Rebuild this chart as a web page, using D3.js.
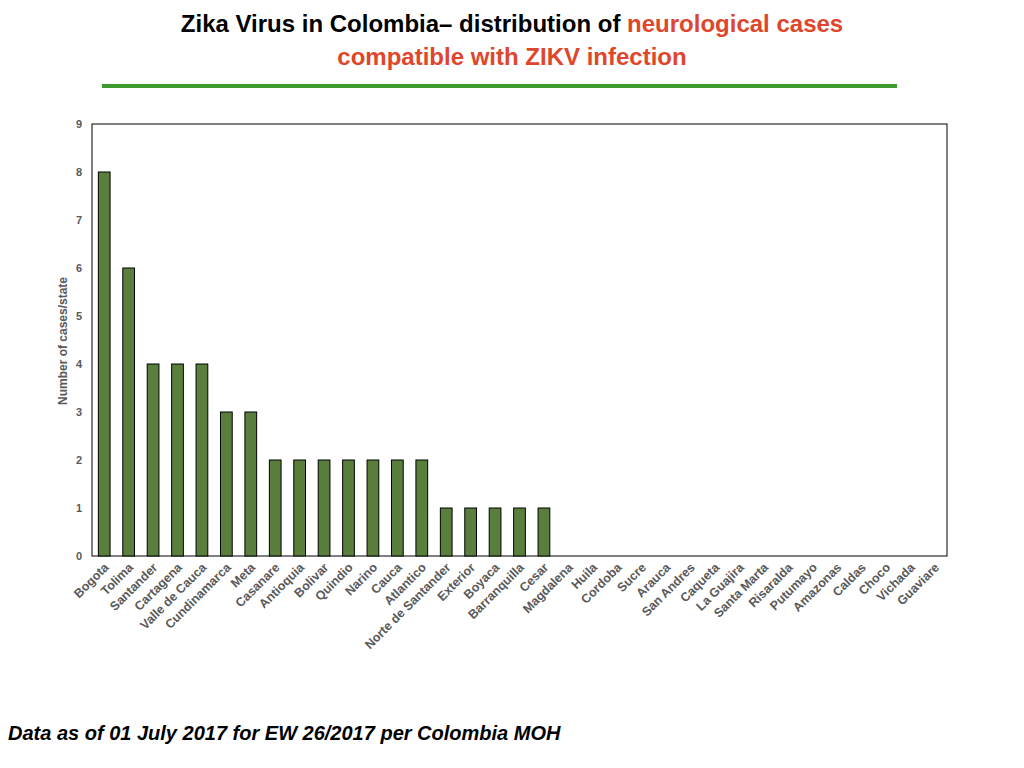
<!DOCTYPE html>
<html><head><meta charset="utf-8">
<script src="https://cdn.jsdelivr.net/npm/d3@7"></script>
<style>body{margin:0;background:#fff;font-family:"Liberation Sans",Arial,sans-serif}</style>
</head><body>
<svg id="c" width="1024" height="768"></svg>
<script>
const states = ["Bogota","Tolima","Santander","Cartagena","Valle de Cauca","Cundinamarca","Meta","Casanare","Antioquia","Bolivar","Quindio","Narino","Cauca","Atlantico","Norte de Santander","Exterior","Boyaca","Barranquilla","Cesar","Magdalena","Huila","Cordoba","Sucre","Arauca","San Andres","Caqueta","La Guajira","Santa Marta","Risaralda","Putumayo","Amazonas","Caldas","Choco","Vichada","Guaviare"];
const cases = [8,6,4,4,4,3,3,2,2,2,2,2,2,2,1,1,1,1,1,0,0,0,0,0,0,0,0,0,0,0,0,0,0,0,0];
const yTicks = [0,1,2,3,4,5,6,7,8,9];

const svg = d3.select("#c");
const m = {left:92, right:947, top:124, bottom:556};
const x = d3.scaleBand().domain(states).range([m.left, m.right]).paddingInner(0.52).paddingOuter(0.26);
const y = d3.scaleLinear().domain([0,9]).range([m.bottom, m.top]);

// title
const t = svg.append("text").attr("x",512).attr("y",32).attr("text-anchor","middle")
  .attr("font-size",24).attr("font-weight","bold");
t.append("tspan").text("Zika Virus in Colombia\u2013  distribution of ");
t.append("tspan").attr("fill","#e0462b").text("neurological cases");
svg.append("text").attr("x",512).attr("y",65).attr("text-anchor","middle")
  .attr("font-size",24).attr("font-weight","bold").attr("fill","#e0462b").text("compatible with ZIKV infection");
svg.append("line").attr("x1",102).attr("x2",897).attr("y1",86).attr("y2",86)
  .attr("stroke","#3c9a2c").attr("stroke-width",4);

svg.append("rect").attr("x",m.left).attr("y",m.top).attr("width",m.right-m.left).attr("height",m.bottom-m.top)
  .attr("fill","none").attr("stroke","#000").attr("stroke-width",1);

svg.append("g").selectAll("rect").data(states).join("rect")
  .attr("x",d=>x(d)).attr("width",x.bandwidth())
  .attr("y",(d,i)=>y(cases[i])).attr("height",(d,i)=>y(0)-y(cases[i]))
  .attr("fill","#5a7f3c").attr("stroke","#000").attr("stroke-width",1);

const ya = svg.append("g").attr("transform",`translate(${m.left},0)`)
  .call(d3.axisLeft(y).tickValues(yTicks).tickSize(0).tickPadding(10));
ya.select(".domain").remove();
ya.selectAll("text").attr("font-size",11).attr("font-weight","bold").attr("fill","#595959").attr("font-family","Liberation Sans, Arial");

const xa = svg.append("g").attr("transform",`translate(0,${m.bottom})`)
  .call(d3.axisBottom(x).tickSize(0));
xa.select(".domain").remove();
xa.selectAll("text").attr("font-size",12.5).attr("font-weight","bold").attr("fill","#595959")
  .attr("font-family","Liberation Sans, Arial")
  .attr("text-anchor","end").attr("transform","translate(0,7) rotate(-45)").attr("dy","0.35em");

svg.append("text").attr("transform","translate(67,341) rotate(-90)").attr("text-anchor","middle")
  .attr("font-size",12).attr("font-weight","bold").attr("fill","#595959").text("Number of cases/state");

svg.append("text").attr("x",8).attr("y",740).attr("font-size",20).attr("font-weight","bold")
  .attr("font-style","italic").text("Data as of 01 July 2017 for EW 26/2017 per Colombia MOH");
</script>
</body></html>
